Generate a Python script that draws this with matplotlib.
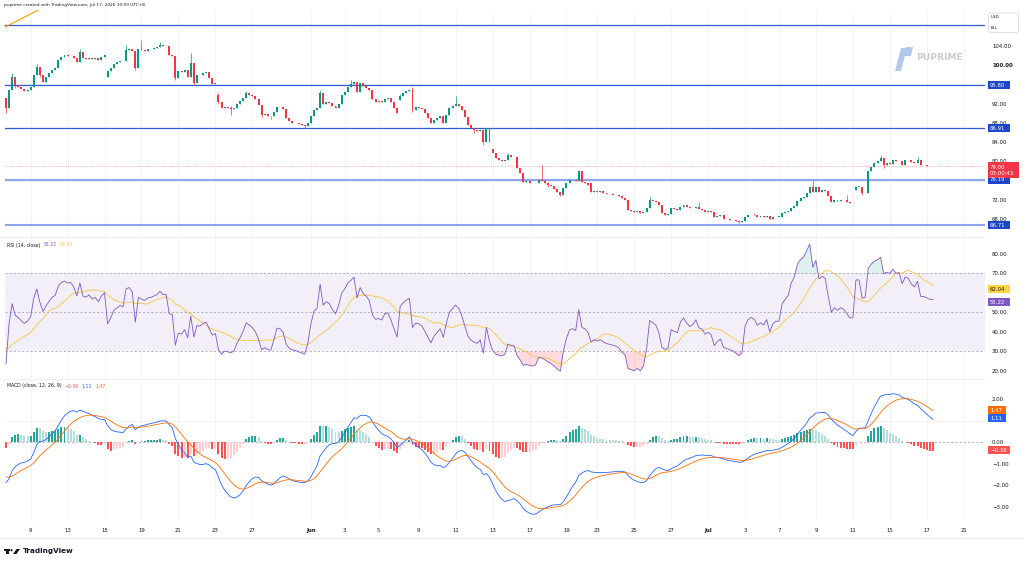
import numpy as np
import pandas as pd
import matplotlib
matplotlib.use("Agg")
import matplotlib.pyplot as plt
from matplotlib.patches import Polygon, FancyBboxPatch, Rectangle, Circle

# ---------------- data ----------------
warmup_close = [101.6, 102.0, 101.7, 102.3, 101.9, 102.4, 102.0, 101.8, 102.3, 102.1, 101.7, 102.2,
                101.9, 102.4, 102.0, 101.7, 102.1, 101.8, 102.2, 102.0, 98.2, 98.7,
                97.9, 98.4, 97.4, 97.9, 97.0, 97.5, 96.5, 97.0, 96.1, 96.6, 95.6, 96.1,
                95.1, 95.6, 94.6, 95.0, 94.0, 94.4, 93.5, 93.1]

close = [
    91.2, 94.85, 97.6, 95.9, 95.5, 95.0, 94.6, 94.9, 95.4, 98.0, 99.7, 98.0,
    96.6, 97.5, 98.3, 99.0, 99.35, 101.1, 101.8, 102.1, 101.9, 102.0, 101.6, 100.75,
    102.8, 101.4, 101.3, 101.6, 101.2, 101.4, 101.0, 101.7, 102.1, 98.7, 99.4, 100.3,
    100.6, 100.9, 100.8, 103.2, 103.4, 103.0, 99.4, 103.3, 103.1, 102.9, 103.3, 103.4,
    103.6, 103.8, 104.3, 104.0, 104.0, 102.1, 102.0, 97.3, 98.7, 98.5, 99.0, 97.6,
    100.4, 96.2, 98.0, 97.9, 98.3, 98.5, 97.3, 96.0, 96.2, 92.4, 91.0, 91.4,
    91.2, 90.9, 91.1, 91.9, 92.5, 93.2, 94.2, 93.9, 93.5, 92.9, 91.7, 89.7,
    89.9, 89.5, 89.4, 90.3, 91.4, 91.3, 90.8, 89.0, 88.3, 88.0, 87.9, 87.7,
    87.5, 87.3, 88.0, 89.5, 90.7, 91.0, 94.2, 91.9, 92.4, 92.2, 91.5, 91.0,
    92.0, 93.8, 94.5, 95.5, 96.0, 96.6, 94.5, 96.3, 95.6, 95.3, 94.8, 93.0,
    92.4, 92.5, 92.3, 93.0, 93.1, 92.3, 91.2, 90.0, 93.6, 94.2, 94.6, 94.85,
    90.7, 91.3, 91.2, 90.9, 90.0, 89.0, 87.9, 88.6, 89.0, 89.4, 88.0, 89.6,
    91.0, 91.5, 92.0, 91.6, 90.7, 89.3, 87.6, 86.9, 86.5, 86.3, 86.6, 84.1,
    86.9, 84.1, 81.7, 80.6, 80.3, 80.0, 80.2, 81.3, 81.0, 80.9, 78.6, 77.5,
    75.8, 75.9, 75.6, 75.4, 75.5, 76.1, 75.9, 75.6, 75.1, 74.8, 74.2, 73.6,
    73.1, 74.4, 75.4, 76.1, 76.2, 76.0, 77.9, 75.8, 75.6, 75.1, 73.7, 73.9,
    73.7, 73.8, 73.5, 73.3, 73.2, 73.1, 73.0, 72.8, 72.3, 72.0, 69.9, 69.7,
    69.5, 69.6, 69.2, 69.4, 70.2, 72.0, 71.8, 71.6, 70.9, 69.2, 68.9, 69.0,
    70.2, 70.0, 69.9, 70.6, 70.9, 70.5, 70.2, 70.3, 70.6, 70.0, 69.9, 69.5,
    69.6, 69.4, 68.5, 68.7, 68.8, 68.1, 68.0, 67.9, 67.8, 67.6, 67.4, 67.5,
    68.5, 68.8, 68.9, 68.8, 68.5, 68.6, 68.5, 68.7, 68.1, 68.4, 68.5, 68.5,
    69.2, 69.4, 69.6, 70.3, 70.7, 71.8, 72.3, 72.6, 73.5, 74.7, 73.7, 74.7,
    73.7, 74.0, 73.9, 72.8, 71.6, 72.0, 71.8, 72.0, 71.9, 71.6, 71.3, 71.3,
    74.7, 74.7, 73.4, 73.5, 77.9, 78.9, 79.6, 80.0, 80.6, 79.3, 79.6, 79.5,
    80.3, 80.0, 80.1, 79.3, 80.3, 80.2, 79.8, 79.6, 80.3, 79.2, 79.2, 79.1,
    79.0, 79.0]

gap_open = {0: 93.1, 33: 97.6, 69: 93.8, 128: 92.8, 158: 82.5, 190: 75.4, 276: 74.0}
wick_high = {2: 98.3, 10: 100.3, 24: 103.3, 39: 104.3, 44: 105.3, 50: 104.8, 55: 99.5,
             60: 102.5, 69: 94.2, 73: 91.6, 78: 94.6, 102: 94.8, 112: 96.9, 128: 94.0,
             132: 95.5, 146: 93.5, 163: 81.8, 174: 79.3, 186: 78.2, 209: 72.5, 225: 71.6,
             243: 69.2, 262: 76.1, 273: 73.0, 284: 81.4, 296: 80.9}
wick_low = {0: 90.0, 3: 95.3, 11: 97.5, 42: 99.0, 55: 97.0, 61: 95.8, 69: 92.0, 73: 89.6,
            83: 89.3, 86: 88.9, 97: 87.0, 132: 90.3, 152: 85.8, 155: 83.5, 176: 74.6,
            180: 72.8, 182: 74.7, 238: 67.1, 278: 73.0, 285: 78.6}

dark_levels = [108.4, 95.80, 86.91]
light_levels = [76.19, 66.71]
level_labels = [95.80, 86.91, 76.19, 66.71]
last_price = 79.00
countdown = "03:00:43"
trend_x = [-1.0, 12.0]
trend_y = [107.7, 112.0]

rsi_last, rsi_ma_last = 55.22, 62.04
macd_last, signal_last, hist_last = 1.11, 1.47, -0.36

tick_pos = [8, 20, 32, 44, 56, 68, 80, 99, 110, 121, 134, 146, 158, 170, 182, 192, 204,
            216, 228, 240, 251, 263, 275, 287, 299, 311]
tick_lab = ['9', '13', '15', '19', '21', '23', '27', 'Jun', '3', '5', '9', '11', '13',
            '17', '19', '23', '25', '27', 'Jul', '3', '7', '9', '11', '15', '17', '21']
price_ticks = [68, 72, 80, 84, 88, 92, 100, 104]
price_grid = [68, 72, 76, 80, 84, 88, 92, 96, 100, 104, 108]
rsi_ticks = [20, 30, 40, 50, 70, 80]
rsi_grid = [20, 30, 40, 50, 60, 70, 80]
macd_ticks = [-3, -2, -1, 0, 2]
macd_grid = [-3, -2, -1, 0, 1, 2]

# ---------------- derived candles / indicators ----------------
n = len(close)
x = np.arange(n)
c = np.array(close)
o = np.r_[np.nan, c[:-1]]
for k, v in gap_open.items():
    o[k] = v
hi = np.maximum(o, c)
lo = np.minimum(o, c)
for k, v in wick_high.items():
    hi[k] = max(hi[k], v)
for k, v in wick_low.items():
    lo[k] = min(lo[k], v)

allc = pd.Series(warmup_close + close)
W0 = len(warmup_close)
d = allc.diff().fillna(0)
up = d.clip(lower=0).ewm(alpha=1/14, adjust=False).mean()
dn = (-d).clip(lower=0).ewm(alpha=1/14, adjust=False).mean()
rsi_all = 100 - 100 / (1 + up / dn)
rsi_ma_all = rsi_all.rolling(14, min_periods=1).mean()
macd_all = allc.ewm(span=12, adjust=False).mean() - allc.ewm(span=26, adjust=False).mean()
sig_all = macd_all.ewm(span=9, adjust=False).mean()
hist_all = macd_all - sig_all
rsi = rsi_all.values[W0:]
rsi_ma = rsi_ma_all.values[W0:]
macd = macd_all.values[W0:]
sig = sig_all.values[W0:]
hist = hist_all.values[W0:]
hist_prev = hist_all.values[W0 - 1:-1]

# ---------------- figure ----------------
FW, FH = 1024, 562
fig = plt.figure(figsize=(FW / 100, FH / 100), dpi=100)
fig.patch.set_facecolor('white')


def rect(x0, y0, x1, y1):
    return [x0 / FW, 1 - y1 / FH, (x1 - x0) / FW, (y1 - y0) / FH]


axp = fig.add_axes(rect(5, 10, 985, 236))
axr = fig.add_axes(rect(5, 238, 985, 378), sharex=axp)
axm = fig.add_axes(rect(5, 380, 985, 520), sharex=axp)

UP, DOWN = '#089981', '#F23645'
GRID = '#F2F3F6'
TXT = '#131722'
FS = 3.9


def fmt(v):
    return f"{v:.2f}".replace('-', '\u2212')


for ax, ticks, grid in ((axp, price_ticks, price_grid), (axr, rsi_ticks, rsi_grid),
                        (axm, macd_ticks, macd_grid)):
    for s in ax.spines.values():
        s.set_visible(False)
    ax.yaxis.tick_right()
    ax.set_yticks(ticks)
    ax.set_yticklabels([fmt(v) for v in ticks])
    ax.set_yticks(grid, minor=True)
    ax.tick_params(axis='y', which='both', length=0, pad=5, labelsize=FS, labelcolor=TXT)
    ax.tick_params(axis='x', length=0)
    ax.set_xticks(tick_pos)
    ax.grid(True, which='major', axis='x', color=GRID, linewidth=0.6)
    ax.grid(True, which='minor', axis='y', color=GRID, linewidth=0.6)
    ax.set_axisbelow(True)

axp.set_xlim(-0.32, 317.9)
axp.tick_params(axis='x', labelbottom=False)
axr.tick_params(axis='x', labelbottom=False)
axm.set_xticklabels(tick_lab)
axm.tick_params(axis='x', pad=6, labelsize=FS, labelcolor=TXT)
for t in axm.get_xticklabels():
    if t.get_text() in ('Jun', 'Jul'):
        t.set_fontweight('bold')
for t in axp.get_yticklabels():
    if t.get_text() == '100.00':
        t.set_fontweight('bold')

# price pane
axp.set_ylim(64.47, 111.49)
cols = np.where(c >= o, UP, DOWN)
axp.vlines(x, lo, hi, colors=cols, linewidth=0.5, zorder=3)
body_h = np.maximum(np.abs(c - o), 0.08)
axp.bar(x, body_h, bottom=np.minimum(o, c), width=0.64, color=cols, linewidth=0, zorder=4)

for lv in dark_levels:
    axp.axhline(lv, color='#2F5BD3', linewidth=0.9, zorder=2)
for lv in light_levels:
    axp.axhline(lv, color='#8FA6EC', linewidth=1.5, zorder=2)
axp.axhline(last_price, color=DOWN, linewidth=0.5, linestyle=(0, (1.5, 1.5)), alpha=0.5, zorder=2)
axp.plot(trend_x, trend_y, color='#FF9800', linewidth=0.8, zorder=5, clip_on=True)

# RSI pane
axr.set_ylim(16.4, 88.2)
axr.axhspan(30, 70, color='#7E57C2', alpha=0.09, linewidth=0, zorder=0)
for lv in (70, 50, 30):
    axr.axhline(lv, color='#9598A1', linewidth=0.5, linestyle=(0, (3, 3)), zorder=1)
axr.fill_between(x, rsi, 70, where=rsi > 70, interpolate=True, color='#26A69A', alpha=0.15,
                 linewidth=0, zorder=1)
axr.fill_between(x, rsi, 30, where=rsi < 30, interpolate=True, color='#F23645', alpha=0.18,
                 linewidth=0, zorder=1)
axr.plot(x, rsi_ma, color='#F5C542', linewidth=0.6, zorder=3)
axr.plot(x, rsi, color='#7E57C2', linewidth=0.6, zorder=4)

# MACD pane
axm.set_ylim(-3.6, 2.88)
axm.axhline(0, color='#9598A1', linewidth=0.5, linestyle=(0, (3, 3)), zorder=1)
hcols = np.where(hist >= 0,
                 np.where(hist > hist_prev, '#26A69A', '#B2DFDB'),
                 np.where(hist < hist_prev, '#FF5252', '#FFCDD2'))
axm.bar(x, hist, width=0.64, color=hcols, linewidth=0, zorder=2)
axm.plot(x, macd, color='#2962FF', linewidth=0.6, zorder=3)
axm.plot(x, sig, color='#FF6D00', linewidth=0.6, zorder=4)

# overlay for decorations (pixel coordinates, y downward)
ov = fig.add_axes([0, 0, 1, 1], zorder=30)
ov.set_xlim(0, FW)
ov.set_ylim(FH, 0)
ov.axis('off')
ov.patch.set_alpha(0)


def ypx(ax, v):
    return FH - ax.transData.transform((0, v))[1]


def vbox(ax, v, text, bg, fg='white', w=None, h=8.0, center=None):
    yc = ypx(ax, v) if center is None else ypx(ax, center)
    if w is None:
        w = 4 + 3.6 * len(text)
    ov.add_patch(Rectangle((987.5, yc - h / 2), w, h, fc=bg, ec='none', zorder=5))
    ov.text(990, yc, text, fontsize=FS, color=fg, ha='left', va='center', zorder=6,
            linespacing=1.35)


for lv in level_labels:
    vbox(axp, lv, fmt(lv), '#1E46C8')
vbox(axp, last_price, f"{fmt(last_price)}\n{countdown}", '#F23645', w=31, h=16,
     center=last_price - 0.85)
vbox(axr, rsi_ma_last, fmt(rsi_ma_last), '#FFD640', TXT)
vbox(axr, rsi_last, fmt(rsi_last), '#7E57C2')
vbox(axm, signal_last, fmt(signal_last), '#FF6D00')
vbox(axm, macd_last, fmt(macd_last), '#2962FF')
vbox(axm, hist_last, fmt(hist_last), '#FF5252')

for yy in (237, 379):
    ov.plot([0, 985], [yy, yy], color='#E6E8EE', linewidth=0.5)
ov.plot([0, FW], [538, 538], color='#E6E8EE', linewidth=0.5)

ov.text(4, 5, "puprime created with TradingView.com, Jul 17, 2026 10:59 UTC+8", fontsize=3.1,
        color=TXT, va='center', ha='left')
ov.add_patch(FancyBboxPatch((988.5, 13), 30, 19.5, boxstyle='round,pad=0,rounding_size=2',
                            fc='white', ec='#D1D4DC', linewidth=0.5))
ov.text(991, 17, "USD", fontsize=3.0, color=TXT, va='center', ha='left')
ov.text(991, 28, "BLL", fontsize=3.0, color=TXT, va='center', ha='left')


def legend(y, parts):
    prev = None
    for txt, col in parts:
        if prev is None:
            prev = ov.text(7, y, txt, fontsize=3.3, color=col, va='center', ha='left')
        else:
            prev = ov.annotate(txt, xy=(1, 0.5), xycoords=prev, xytext=(2.2, 0),
                               textcoords='offset points', va='center', ha='left',
                               fontsize=3.3, color=col)


legend(245, [("RSI (14, close)", TXT), (fmt(rsi_last), '#7E57C2'),
             (fmt(rsi_ma_last), '#F5C542')])
legend(386, [("MACD (close, 12, 26, 9)", TXT), (fmt(hist_last), '#FF5252'),
             (fmt(macd_last), '#2962FF'), (fmt(signal_last), '#FF6D00')])

# PU Prime watermark
ov.add_patch(Polygon([(895, 71), (901, 48), (907, 48), (901, 71)], closed=True,
                     fc='#B4C8EC', ec='none'))
ov.add_patch(Polygon([(906, 47), (913, 47), (911, 56), (904, 56)], closed=True,
                     fc='#B4C8EC', ec='none'))
ov.text(916, 57, "PUPRIME", fontsize=6.6, fontweight='bold', color='#C9CBD0',
        va='center', ha='left')

# TradingView logo
ov.add_patch(Rectangle((4, 549), 5.5, 1.8, fc=TXT, ec='none'))
ov.add_patch(Rectangle((6.3, 549), 2.2, 5, fc=TXT, ec='none'))
ov.add_patch(Circle((11.5, 550.2), 1.1, fc=TXT, ec='none'))
ov.add_patch(Polygon([(13, 554), (16.5, 549), (20, 549), (16.5, 554)], closed=True,
                     fc=TXT, ec='none'))
ov.text(22.5, 551.5, "TradingView", fontsize=5.2, fontweight='bold', color=TXT,
        va='center', ha='left')

fig.savefig('out.png', dpi=100, facecolor='white')
